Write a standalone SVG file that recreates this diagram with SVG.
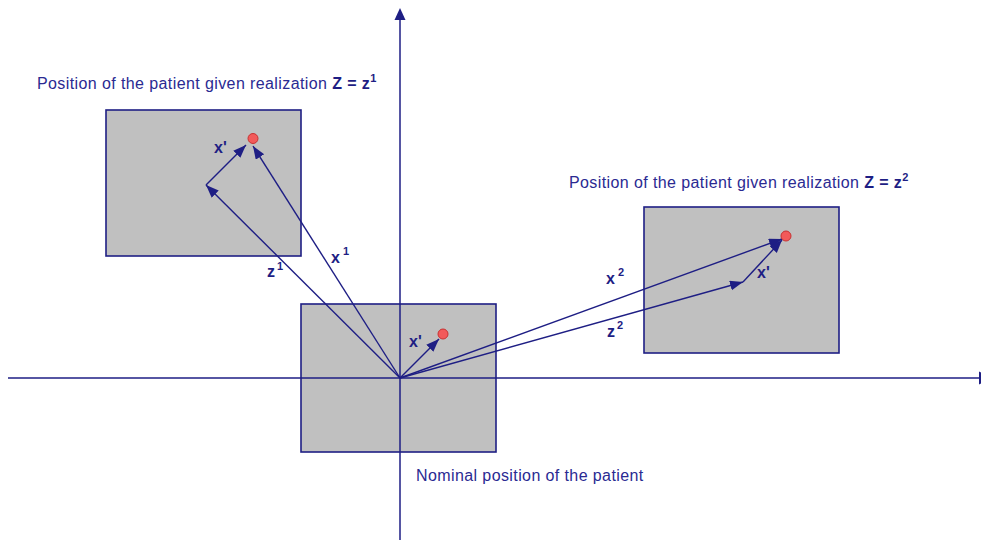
<svg xmlns="http://www.w3.org/2000/svg" width="981" height="540" viewBox="0 0 981 540">
<style>
.bg{fill:#ffffff}
.box{fill:#c0c0c0;stroke:#1e1e84;stroke-width:1.6}
.ax{stroke:#1e1e84;stroke-width:1.5;fill:none}
.vec{stroke:#1e1e84;stroke-width:1.4;fill:none;marker-end:url(#ah)}
.dot{fill:#f25a5a;stroke:#c83232;stroke-width:1}
.t{font-family:"Liberation Sans",Arial,sans-serif;font-size:16px;fill:#2a2a92;letter-spacing:0.4px}
.lb{font-family:"Liberation Sans",Arial,sans-serif;font-size:16px;font-weight:bold;fill:#1e1e84}
.sup{font-family:"Liberation Sans",Arial,sans-serif;font-size:11px;font-weight:bold;fill:#1e1e84}
</style>
<defs>
<marker id="ah" markerUnits="userSpaceOnUse" markerWidth="14" markerHeight="11" refX="13" refY="5" orient="auto">
<path d="M0,0 L13,5 L0,10 Z" fill="#1e1e84"/>
</marker>
</defs>
<rect class="bg" x="0" y="0" width="981" height="540"/>
<g id="axes">
<line class="ax" x1="400" y1="18" x2="400" y2="540"/>
<polygon points="400,8 394.5,20 405.5,20" fill="#1e1e84"/>
<line class="ax" x1="8" y1="378" x2="979" y2="378"/>
<polygon points="979,371.5 991,378 979,384.5" fill="#1e1e84"/>
</g>
<g id="box-z1">
<rect class="box" x="106" y="110" width="195" height="146"/>
</g>
<g id="box-z2">
<rect class="box" x="644" y="207" width="195" height="146"/>
</g>
<g id="box-nominal">
<rect class="box" x="301" y="304" width="195" height="148"/>
</g>
<g id="axes-over">
<line class="ax" x1="400" y1="304" x2="400" y2="452"/>
<line class="ax" x1="301" y1="378" x2="496" y2="378"/>
</g>
<g id="connectors">
<line class="vec" x1="400" y1="378" x2="206" y2="185"/>
<line class="vec" x1="400" y1="378" x2="253" y2="146"/>
<line class="vec" x1="206" y1="185" x2="246" y2="145"/>
<line class="vec" x1="400" y1="378" x2="439" y2="339"/>
<line class="vec" x1="400" y1="378" x2="782" y2="239"/>
<line class="vec" x1="400" y1="378" x2="743" y2="282"/>
<line class="vec" x1="743" y1="282" x2="782" y2="240"/>
</g>
<g id="points">
<circle class="dot" cx="253" cy="138.5" r="5"/>
<circle class="dot" cx="443" cy="334" r="5"/>
<circle class="dot" cx="786" cy="236" r="5"/>
</g>
<g id="titles">
<text class="t" x="37" y="89">Position of the patient given realization <tspan font-weight="bold" fill="#1e1e84">Z = z</tspan><tspan class="sup" dy="-7">1</tspan></text>
<text class="t" x="569" y="188" letter-spacing="0.65">Position of the patient given realization <tspan font-weight="bold" fill="#1e1e84">Z = z</tspan><tspan class="sup" dy="-7">2</tspan></text>
<text class="t" x="416" y="481" letter-spacing="0.75">Nominal position of the patient</text>
</g>
<g id="labels">
<text class="lb" x="214" y="153">x'</text>
<text class="lb" x="267" y="277">z</text><text class="sup" x="277" y="270">1</text>
<text class="lb" x="331" y="263">x</text><text class="sup" x="343" y="255">1</text>
<text class="lb" x="606" y="284">x</text><text class="sup" x="618" y="276">2</text>
<text class="lb" x="607" y="337">z</text><text class="sup" x="617" y="329">2</text>
<text class="lb" x="409" y="347">x'</text>
<text class="lb" x="757" y="278">x'</text>
</g>
</svg>
